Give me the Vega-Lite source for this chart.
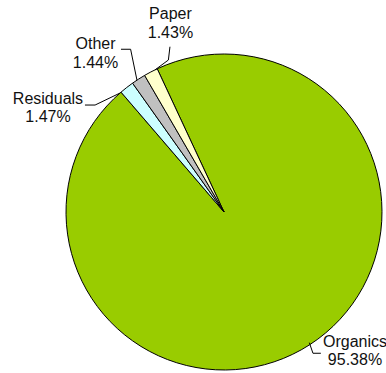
{
  "$schema": "https://vega.github.io/schema/vega-lite/v6.json",
  "autosize": {"type": "none"},
  "width": 316,
  "height": 316,
  "padding": {"left": 66, "top": 54, "right": 4, "bottom": 3},
  "background": "white",
  "config": {"view": {"stroke": null}},
  "datasets": {
    "slices": [
      {"category": "Organics", "percent": 95.38, "idx": 1},
      {"category": "Residuals", "percent": 1.47, "idx": 2},
      {"category": "Other", "percent": 1.44, "idx": 3},
      {"category": "Paper", "percent": 1.43, "idx": 4}
    ],
    "leaders": [
      {"category": "Residuals", "seq": 1, "u": -0.880, "v": 0.677},
      {"category": "Residuals", "seq": 2, "u": -0.816, "v": 0.677},
      {"category": "Residuals", "seq": 3, "u": -0.658, "v": 0.753},
      {"category": "Other", "seq": 1, "u": -0.652, "v": 1.030},
      {"category": "Other", "seq": 2, "u": -0.591, "v": 1.030},
      {"category": "Other", "seq": 3, "u": -0.551, "v": 0.835},
      {"category": "Paper", "seq": 1, "u": -0.342, "v": 1.046},
      {"category": "Paper", "seq": 2, "u": -0.352, "v": 0.962},
      {"category": "Paper", "seq": 3, "u": -0.437, "v": 0.899},
      {"category": "Organics", "seq": 1, "u": 0.540, "v": -0.827},
      {"category": "Organics", "seq": 2, "u": 0.563, "v": -0.894},
      {"category": "Organics", "seq": 3, "u": 0.613, "v": -0.894}
    ],
    "labels": [
      {"category": "Paper", "label": "Paper\n1.43%", "u": -0.339, "v": 1.220},
      {"category": "Other", "label": "Other\n1.44%", "u": -0.813, "v": 1.030},
      {"category": "Residuals", "label": "Residuals\n1.47%", "u": -1.114, "v": 0.684},
      {"category": "Organics", "label": "Organics\n95.38%", "u": 0.829, "v": -0.853}
    ]
  },
  "layer": [
    {
      "data": {"name": "slices"},
      "mark": {"type": "arc", "radius": 158, "stroke": "black", "strokeWidth": 1},
      "encoding": {
        "theta": {"field": "percent", "type": "quantitative", "stack": true,
                  "scale": {"range": [-0.4363, 5.8469]}},
        "order": {"field": "idx", "type": "quantitative"},
        "color": {"field": "category", "type": "nominal", "legend": null,
                  "scale": {"domain": ["Organics", "Residuals", "Other", "Paper"],
                            "range": ["#99CC00", "#CCFFFF", "#C0C0C0", "#FFFFCC"]}}
      }
    },
    {
      "data": {"name": "leaders"},
      "mark": {"type": "line", "color": "black", "strokeWidth": 1, "clip": false},
      "encoding": {
        "x": {"field": "u", "type": "quantitative", "axis": null,
              "scale": {"domain": [-1, 1], "nice": false, "zero": false}},
        "y": {"field": "v", "type": "quantitative", "axis": null,
              "scale": {"domain": [-1, 1], "nice": false, "zero": false}},
        "detail": {"field": "category", "type": "nominal"},
        "order": {"field": "seq", "type": "quantitative"}
      }
    },
    {
      "data": {"name": "labels"},
      "mark": {"type": "text", "align": "center", "baseline": "alphabetic",
               "lineBreak": "\n", "lineHeight": 18.5, "fontSize": 16,
               "font": "Liberation Sans", "color": "#111111", "clip": false},
      "encoding": {
        "x": {"field": "u", "type": "quantitative"},
        "y": {"field": "v", "type": "quantitative"},
        "text": {"field": "label", "type": "nominal"}
      }
    }
  ]
}
